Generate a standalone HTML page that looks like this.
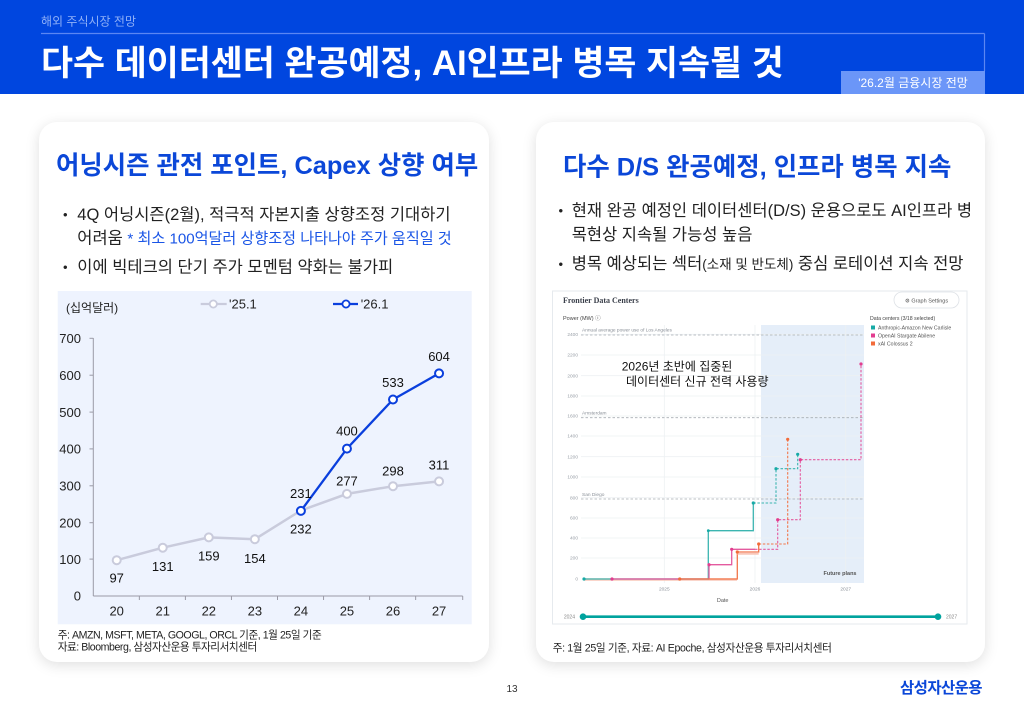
<!DOCTYPE html>
<html><head><meta charset="utf-8">
<style>
html,body{margin:0;padding:0;}
body{width:1024px;height:709px;position:relative;background:#fff;overflow:hidden;font-family:"Liberation Sans","Noto Sans CJK KR",sans-serif;}
.band{position:absolute;left:0;top:0;width:1024px;height:94px;background:#0046df;}
.card{position:absolute;top:122px;height:540px;background:#fff;border-radius:18px;box-shadow:0 3px 14px rgba(0,0,0,0.13);}
svg{position:absolute;left:0;top:0;}
</style></head>
<body>
<div class="band"></div>
<div class="card" style="left:39px;width:450px;"></div>
<div class="card" style="left:536px;width:449px;"></div>
<svg width="1024" height="709" viewBox="0 0 1024 709" font-family="Liberation Sans, Noto Sans CJK KR, sans-serif">
<!-- header -->
<text x="41" y="25.5" font-size="12" fill="#8fb0f7">해외 주식시장 전망</text>
<line x1="41" y1="33.5" x2="984.5" y2="33.5" stroke="#5b86f2" stroke-width="1.2"/>
<line x1="984.5" y1="33.5" x2="984.5" y2="71" stroke="#5b86f2" stroke-width="1.2"/>
<rect x="841" y="71" width="144" height="23" fill="#6b96f8"/>
<text x="913" y="87" font-size="12" fill="#fff" text-anchor="middle">'26.2월 금융시장 전망</text>
<text x="41" y="75" font-size="34.8" font-weight="700" fill="#fff">다수 데이터센터 완공예정, AI인프라 병목 지속될 것</text>

<!-- left card text -->
<text x="56" y="174" font-size="25.4" font-weight="700" fill="#0b47d8">어닝시즌 관전 포인트, Capex 상향 여부</text>
<text x="63" y="219" font-size="13" fill="#222">•</text>
<text x="77.3" y="219.8" font-size="16.5" fill="#222">4Q 어닝시즌(2월), 적극적 자본지출 상향조정 기대하기</text>
<text x="77.3" y="243.5" font-size="16.5" fill="#222">어려움 <tspan fill="#1a55e6" font-size="15.1">* 최소 100억달러 상향조정 나타나야 주가 움직일 것</tspan></text>
<text x="63" y="271.7" font-size="13" fill="#222">•</text>
<text x="77.3" y="272.5" font-size="16.5" fill="#222">이에 빅테크의 단기 주가 모멘텀 약화는 불가피</text>

<!-- left chart -->
<rect x="57.7" y="291" width="414" height="333.3" fill="#eef3fe"/>
<text x="66" y="312" font-size="12" fill="#222">(십억달러)</text>
<line x1="200.7" y1="304" x2="226.7" y2="304" stroke="#c9cbdc" stroke-width="2.2"/>
<circle cx="213.3" cy="304" r="3.6" fill="#fff" stroke="#c9cbdc" stroke-width="1.8"/>
<text x="229" y="308.6" font-size="13" fill="#222">'25.1</text>
<line x1="333" y1="304" x2="358" y2="304" stroke="#0a3fdd" stroke-width="2.2"/>
<circle cx="346" cy="304" r="3.6" fill="#fff" stroke="#0a3fdd" stroke-width="1.8"/>
<text x="360.7" y="308.6" font-size="13" fill="#222">'26.1</text>

<g stroke="#9a9aa6" stroke-width="1">
<line x1="93.3" y1="338" x2="93.3" y2="596"/>
<line x1="93.3" y1="596" x2="462.7" y2="596"/>
<line x1="89.5" y1="338.3" x2="93.3" y2="338.3"/>
<line x1="89.5" y1="375.2" x2="93.3" y2="375.2"/>
<line x1="89.5" y1="412.1" x2="93.3" y2="412.1"/>
<line x1="89.5" y1="448.9" x2="93.3" y2="448.9"/>
<line x1="89.5" y1="485.8" x2="93.3" y2="485.8"/>
<line x1="89.5" y1="522.7" x2="93.3" y2="522.7"/>
<line x1="89.5" y1="559.1" x2="93.3" y2="559.1"/>
<line x1="139.35" y1="596" x2="139.35" y2="600"/>
<line x1="185.4" y1="596" x2="185.4" y2="600"/>
<line x1="231.45" y1="596" x2="231.45" y2="600"/>
<line x1="277.5" y1="596" x2="277.5" y2="600"/>
<line x1="323.55" y1="596" x2="323.55" y2="600"/>
<line x1="369.6" y1="596" x2="369.6" y2="600"/>
<line x1="415.65" y1="596" x2="415.65" y2="600"/>
<line x1="462.7" y1="596" x2="462.7" y2="600"/>
</g>
<g font-size="13" fill="#222" text-anchor="end">
<text x="81" y="343">700</text>
<text x="81" y="380">600</text>
<text x="81" y="417">500</text>
<text x="81" y="453.6">400</text>
<text x="81" y="490.5">300</text>
<text x="81" y="527.4">200</text>
<text x="81" y="564">100</text>
<text x="81" y="600.7">0</text>
</g>
<g font-size="13" fill="#222" text-anchor="middle">
<text x="116.7" y="615.4">20</text>
<text x="162.75" y="615.4">21</text>
<text x="208.8" y="615.4">22</text>
<text x="254.85" y="615.4">23</text>
<text x="300.9" y="615.4">24</text>
<text x="346.95" y="615.4">25</text>
<text x="393" y="615.4">26</text>
<text x="439.05" y="615.4">27</text>
</g>
<polyline points="116.7,560.2 162.75,547.7 208.8,537.4 254.85,539.2 300.9,510.5 346.95,493.9 393,486.2 439.05,481.4" fill="none" stroke="#c9cbdc" stroke-width="2.5"/>
<g fill="#fff" stroke="#c9cbdc" stroke-width="2">
<circle cx="116.7" cy="560.2" r="4"/><circle cx="162.75" cy="547.7" r="4"/><circle cx="208.8" cy="537.4" r="4"/><circle cx="254.85" cy="539.2" r="4"/><circle cx="346.95" cy="493.9" r="4"/><circle cx="393" cy="486.2" r="4"/><circle cx="439.05" cy="481.4" r="4"/>
</g>
<polyline points="300.9,510.9 346.95,448.6 393,399.5 439.05,373.4" fill="none" stroke="#0a3fdd" stroke-width="2.3"/>
<g fill="#fff" stroke="#0a3fdd" stroke-width="2">
<circle cx="300.9" cy="510.9" r="4"/><circle cx="346.95" cy="448.6" r="4"/><circle cx="393" cy="399.5" r="4"/><circle cx="439.05" cy="373.4" r="4"/>
</g>
<g font-size="13" fill="#111" text-anchor="middle">
<text x="116.7" y="582.5">97</text>
<text x="162.75" y="571.2">131</text>
<text x="208.8" y="560.5">159</text>
<text x="254.85" y="562.8">154</text>
<text x="300.9" y="533.5">232</text>
<text x="300.9" y="497.8">231</text>
<text x="346.95" y="485.5">277</text>
<text x="393" y="475.5">298</text>
<text x="439.05" y="469.5">311</text>
<text x="346.95" y="435.5">400</text>
<text x="393" y="386.8">533</text>
<text x="439.05" y="361.2">604</text>
</g>
<text x="57.7" y="638.3" font-size="10.6" fill="#222" letter-spacing="-0.45">주: AMZN, MSFT, META, GOOGL, ORCL 기준, 1월 25일 기준</text>
<text x="57.7" y="650.7" font-size="10.6" fill="#222" letter-spacing="-0.45">자료: Bloomberg, 삼성자산운용 투자리서치센터</text>

<!-- right card text -->
<text x="563" y="175.5" font-size="25.4" font-weight="700" fill="#0b47d8">다수 D/S 완공예정, 인프라 병목 지속</text>
<text x="558.5" y="215" font-size="13" fill="#222">•</text>
<text x="571.7" y="215.8" font-size="16.5" fill="#222">현재 완공 예정인 데이터센터(D/S) 운용으로도 AI인프라 병</text>
<text x="571.7" y="239.8" font-size="16.5" fill="#222">목현상 지속될 가능성 높음</text>
<text x="558.5" y="268.3" font-size="13" fill="#222">•</text>
<text x="571.7" y="269.1" font-size="16.5" fill="#222">병목 예상되는 섹터<tspan font-size="13.5">(소재 및 반도체)</tspan> 중심 로테이션 지속 전망</text>

<!-- right embedded chart -->
<rect x="552.5" y="291" width="414.5" height="333" fill="#fff" stroke="#e6eaee" stroke-width="1"/>
<text x="563" y="303" font-size="8" font-weight="700" fill="#3a3f4a" font-family="Liberation Serif, serif">Frontier Data Centers</text>
<rect x="894" y="292" width="65" height="16" rx="8" fill="#fff" stroke="#dde1e6" stroke-width="0.8"/>
<text x="926.5" y="302.3" font-size="5.5" fill="#555" text-anchor="middle">⚙ Graph Settings</text>
<text x="563" y="320" font-size="5.5" fill="#444">Power (MW) ⓘ</text>
<text x="870" y="320" font-size="5.2" fill="#444">Data centers (3/18 selected)</text>
<rect x="871" y="325.5" width="4" height="4" fill="#17aaa6"/>
<text x="878" y="329.6" font-size="5.2" fill="#555">Anthropic-Amazon New Carlisle</text>
<rect x="871" y="333.5" width="4" height="4" fill="#e23d8f"/>
<text x="878" y="337.6" font-size="5.2" fill="#555">OpenAI Stargate Abilene</text>
<rect x="871" y="341.5" width="4" height="4" fill="#f26b3a"/>
<text x="878" y="345.6" font-size="5.2" fill="#555">xAI Colossus 2</text>

<rect x="761" y="325" width="103" height="258" fill="#e5eef9"/>
<g stroke="#edf1f3" stroke-width="0.8">
<line x1="581" y1="334.3" x2="864" y2="334.3"/><line x1="581" y1="355" x2="864" y2="355"/><line x1="581" y1="375.7" x2="864" y2="375.7"/><line x1="581" y1="396" x2="864" y2="396"/><line x1="581" y1="416" x2="864" y2="416"/><line x1="581" y1="436" x2="864" y2="436"/><line x1="581" y1="456.7" x2="864" y2="456.7"/><line x1="581" y1="477" x2="864" y2="477"/><line x1="581" y1="497.7" x2="864" y2="497.7"/><line x1="581" y1="518" x2="864" y2="518"/><line x1="581" y1="538" x2="864" y2="538"/><line x1="581" y1="558" x2="864" y2="558"/>
<line x1="664.3" y1="325" x2="664.3" y2="583"/><line x1="755" y1="325" x2="755" y2="583"/><line x1="845.7" y1="325" x2="845.7" y2="583"/>
</g>
<g font-size="4.8" fill="#9aa0a8" text-anchor="end">
<text x="578" y="336">2400</text><text x="578" y="356.7">2200</text><text x="578" y="377.4">2000</text><text x="578" y="397.7">1800</text><text x="578" y="417.7">1600</text><text x="578" y="437.7">1400</text><text x="578" y="458.4">1200</text><text x="578" y="478.7">1000</text><text x="578" y="499.4">800</text><text x="578" y="519.7">600</text><text x="578" y="539.7">400</text><text x="578" y="559.7">200</text><text x="578" y="580.7">0</text>
</g>
<g stroke="#a8adb3" stroke-width="0.8" stroke-dasharray="2.5,2">
<line x1="581" y1="335" x2="864" y2="335"/>
<line x1="581" y1="417.7" x2="864" y2="417.7"/>
<line x1="581" y1="499" x2="864" y2="499"/>
</g>
<g font-size="4.8" fill="#8a9098">
<text x="582" y="331.5">Annual average power use of Los Angeles</text>
<text x="582" y="414.5">Amsterdam</text>
<text x="582" y="495.8">San Diego</text>
</g>
<g font-size="4.8" fill="#8a9098" text-anchor="middle">
<text x="664.3" y="590.5">2025</text><text x="755" y="590.5">2026</text><text x="845.7" y="590.5">2027</text>
</g>
<text x="722.7" y="602" font-size="5.5" fill="#555" text-anchor="middle">Date</text>
<text x="840" y="575" font-size="5.5" font-weight="700" fill="#555" text-anchor="middle">Future plans</text>

<!-- series -->
<path d="M584,579.5 H737" fill="none" stroke="#f7b9a8" stroke-width="2.5" opacity="0.8"/>
<path d="M584,579 H708.3 V530.7 H753.3 V503" fill="none" stroke="#3bb5b0" stroke-width="1.3"/>
<path d="M753.3,503 H776 V468.7 H797.7 V454.3" fill="none" stroke="#3bb5b0" stroke-width="1.1" stroke-dasharray="2.5,1.6"/>
<path d="M612,579 H709 V564.7 H731.7 V549.3 H755" fill="none" stroke="#e45a9f" stroke-width="1.3"/>
<path d="M755,549.3 H777.7 V519.7 H800.3 V459.7 H861 V364" fill="none" stroke="#e45a9f" stroke-width="1.1" stroke-dasharray="2.5,1.6"/>
<path d="M679.7,579 H737.3 V552 H758.7 V544" fill="none" stroke="#f2764a" stroke-width="1.3"/>
<path d="M737.3,553.5 H758.7" fill="none" stroke="#f7b9a8" stroke-width="2.5" opacity="0.8"/>
<path d="M758.7,544 H787.7 V439.3" fill="none" stroke="#f2764a" stroke-width="1.1" stroke-dasharray="2.5,1.6"/>
<g fill="#17aaa6"><circle cx="584" cy="579" r="1.6"/><circle cx="708.3" cy="530.7" r="1.4"/><circle cx="753.3" cy="503" r="1.6"/><circle cx="776" cy="468.7" r="1.6"/><circle cx="797.7" cy="454.3" r="1.6"/></g>
<g fill="#e23d8f"><circle cx="612" cy="579" r="1.6"/><circle cx="709" cy="564.7" r="1.6"/><circle cx="731.7" cy="549.3" r="1.6"/><circle cx="777.7" cy="519.7" r="1.6"/><circle cx="800.3" cy="459.7" r="1.6"/><circle cx="861" cy="364" r="1.6"/></g>
<g fill="#f26b3a"><circle cx="679.7" cy="579" r="1.6"/><circle cx="737.3" cy="552" r="1.6"/><circle cx="758.7" cy="544" r="1.6"/><circle cx="787.7" cy="439.3" r="1.6"/></g>

<text x="621.7" y="370.5" font-size="12" fill="#111">2026년 초반에 집중된</text>
<text x="626" y="385.5" font-size="12" fill="#111">데이터센터 신규 전력 사용량</text>

<line x1="583" y1="616.7" x2="938" y2="616.7" stroke="#00a39e" stroke-width="2.6"/>
<circle cx="583" cy="616.7" r="3.3" fill="#00a39e"/>
<circle cx="938" cy="616.7" r="3.3" fill="#00a39e"/>
<text x="575" y="618.5" font-size="5" fill="#888" text-anchor="end">2024</text>
<text x="946" y="618.5" font-size="5" fill="#888">2027</text>

<text x="552.7" y="651.7" font-size="10.6" fill="#222" letter-spacing="-0.35">주: 1월 25일 기준, 자료: AI Epoche, 삼성자산운용 투자리서치센터</text>

<!-- footer -->
<text x="512" y="692" font-size="10" fill="#333" text-anchor="middle">13</text>
<text x="900" y="693" font-size="15.5" font-weight="700" fill="#0b47d8" letter-spacing="-0.6">삼성자산운용</text>
</svg>
</body></html>
